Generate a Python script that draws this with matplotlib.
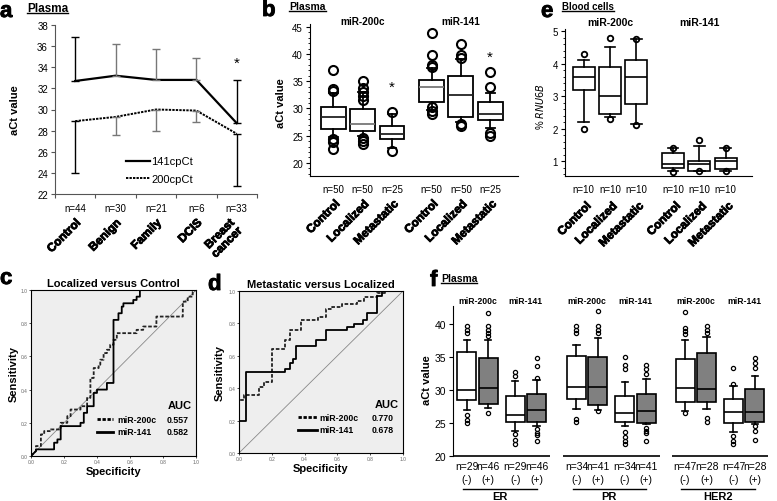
import matplotlib.pyplot as plt
import matplotlib.transforms as mtransforms
import matplotlib.patheffects as pe
from matplotlib.lines import Line2D
from matplotlib.ticker import MultipleLocator

plt.rcParams['font.family'] = ['Liberation Sans', 'DejaVu Sans']

W, H = 777, 502
fig = plt.figure(figsize=(W / 100, H / 100), dpi=100)

# ---------------- data ----------------
# a: plasma, mean +/- SD
a_groups = ["Control", "Benign", "Family", "DCIS", "Breast\ncancer"]
a_n = [44, 30, 21, 6, 33]
a_mean141 = [32.7, 33.2, 32.8, 32.8, 28.7]
a_sd141 = [4.2, 3.0, 2.9, 2.1, 4.1]
a_mean200 = [28.9, 29.3, 30.0, 29.9, 27.7]
a_sd200 = [4.9, 1.7, 2.0, 1.1, 4.9]

# b: plasma boxplots (miR-200c x3, miR-141 x3)
b_groups = ["Control", "Localized", "Metastatic"] * 2
b_n = [50, 50, 25, 50, 50, 25]
b_q1 = [26.2, 25.9, 24.4, 31.2, 28.4, 27.9]
b_med = [28.4, 27.2, 25.4, 33.9, 32.5, 29.0]
b_q3 = [30.2, 29.9, 26.7, 35.3, 36.0, 31.2]
b_lo = [24.8, 25.0, 22.8, 29.8, 27.6, 26.5]
b_hi = [32.8, 33.0, 29.0, 37.5, 39.0, 32.8]
b_fliers = [[37.0, 33.6, 33.2, 24.3, 23.9, 22.6],
            [35.0, 33.8, 33.0, 32.2, 31.6, 24.6, 24.0, 23.5],
            [29.3, 22.2],
            [43.8, 39.8, 38.0, 37.6, 30.2, 29.5, 29.0],
            [41.8, 39.8, 39.3, 27.2, 26.8],
            [36.6, 34.0, 25.5, 25.0]]
b_star = [None, None, 34.0, None, None, 39.5]

# e: blood cells boxplots
e_groups = ["Control", "Localized", "Metastatic"] * 2
e_n = [10, 10, 10, 10, 10, 10]
e_q1 = [3.2, 2.45, 2.75, 0.8, 0.68, 0.75]
e_med = [3.6, 3.0, 3.6, 0.9, 0.9, 1.0]
e_q3 = [3.9, 3.9, 4.1, 1.25, 1.0, 1.1]
e_lo = [2.2, 2.35, 2.15, 0.7, 0.68, 0.7]
e_hi = [4.1, 4.5, 4.75, 1.4, 1.45, 1.4]
e_fliers = [[4.3, 2.0], [4.8, 2.3], [4.75, 2.1], [1.4, 0.65], [1.65, 0.68], [1.4, 0.68]]

# c: ROC localized vs control (1 - specificity, sensitivity)
c200_x = [0.00, 0.03, 0.03, 0.06, 0.06, 0.08, 0.08, 0.12, 0.12, 0.18, 0.18, 0.22, 0.22, 0.24, 0.24,
          0.30, 0.30, 0.34, 0.34, 0.36, 0.36, 0.38, 0.38, 0.41, 0.41, 0.42, 0.42, 0.44, 0.44, 0.46,
          0.46, 0.48, 0.48, 0.50, 0.50, 0.52, 0.52, 0.64, 0.64, 0.68, 0.68, 0.76, 0.76, 0.92, 0.92,
          0.95, 0.95, 0.98, 0.98, 1.00]
c200_y = [0.00, 0.03, 0.06, 0.06, 0.13, 0.13, 0.15, 0.15, 0.16, 0.16, 0.20, 0.20, 0.24, 0.24, 0.28,
          0.28, 0.30, 0.30, 0.35, 0.35, 0.47, 0.47, 0.53, 0.53, 0.55, 0.55, 0.58, 0.58, 0.62, 0.62,
          0.64, 0.64, 0.67, 0.67, 0.70, 0.70, 0.74, 0.74, 0.76, 0.76, 0.78, 0.78, 0.84, 0.84, 0.93,
          0.93, 0.96, 0.96, 0.99, 1.00]
c141_x = [0.00, 0.03, 0.03, 0.14, 0.14, 0.16, 0.16, 0.18, 0.18, 0.30, 0.30, 0.32, 0.32, 0.34, 0.34,
          0.38, 0.38, 0.40, 0.40, 0.46, 0.46, 0.50, 0.50, 0.53, 0.53, 0.55, 0.55, 0.56, 0.56, 0.62,
          0.62, 0.64, 0.64, 0.66, 0.66, 0.70, 1.00]
c141_y = [0.00, 0.03, 0.04, 0.04, 0.08, 0.08, 0.10, 0.10, 0.18, 0.18, 0.20, 0.20, 0.26, 0.26, 0.30,
          0.30, 0.38, 0.38, 0.40, 0.40, 0.44, 0.44, 0.82, 0.82, 0.86, 0.86, 0.90, 0.90, 0.92, 0.92,
          0.94, 0.94, 0.96, 0.96, 1.00, 1.00, 1.00]
c_auc = [0.557, 0.582]

# d: ROC metastatic vs localized
d200_x = [0.00, 0.00, 0.03, 0.03, 0.12, 0.12, 0.15, 0.15, 0.20, 0.20, 0.28, 0.28, 0.31, 0.31, 0.38,
          0.38, 0.48, 0.48, 0.53, 0.53, 0.57, 0.57, 0.63, 0.63, 0.72, 0.72, 0.76, 0.76, 0.84, 0.84,
          0.89, 0.89, 1.00]
d200_y = [0.00, 0.33, 0.33, 0.36, 0.36, 0.41, 0.41, 0.44, 0.44, 0.64, 0.64, 0.70, 0.70, 0.76, 0.76,
          0.82, 0.82, 0.84, 0.84, 0.89, 0.89, 0.90, 0.90, 0.92, 0.92, 0.94, 0.94, 0.96, 0.96, 0.985,
          0.985, 1.00, 1.00]
d141_x = [0.00, 0.00, 0.04, 0.04, 0.28, 0.28, 0.31, 0.31, 0.33, 0.33, 0.35, 0.35, 0.47, 0.47, 0.53,
          0.53, 0.66, 0.66, 0.70, 0.70, 0.755, 0.755, 0.78, 0.78, 0.84, 0.84, 0.87, 0.87, 1.00]
d141_y = [0.00, 0.20, 0.20, 0.50, 0.50, 0.52, 0.52, 0.555, 0.555, 0.58, 0.58, 0.66, 0.66, 0.70, 0.70,
          0.76, 0.76, 0.78, 0.78, 0.795, 0.795, 0.82, 0.82, 0.865, 0.865, 0.97, 0.97, 1.00, 1.00]
d_auc = [0.770, 0.678]

# f: plasma by receptor status (per group: 200c(-), 200c(+), 141(-), 141(+))
f_groups = ["ER", "PR", "HER2"]
f_n = [29, 46, 29, 46, 34, 41, 34, 41, 47, 28, 47, 28]
f_status = ["(-)", "(+)"] * 6
f_q1 = [28.5, 27.95, 25.1, 25.2, 28.6, 27.8, 25.1, 25.0, 28.25, 28.25, 25.0, 25.2]
f_med = [30.0, 30.4, 26.2, 27.0, 30.5, 30.5, 26.5, 26.9, 30.4, 30.2, 26.7, 26.7]
f_q3 = [35.85, 34.9, 29.1, 29.4, 35.2, 35.05, 29.1, 29.5, 34.7, 35.6, 28.6, 30.2]
f_lo = [27.0, 27.3, 23.8, 24.6, 27.1, 27.0, 24.6, 24.85, 26.8, 27.1, 23.65, 24.8]
f_hi = [37.7, 37.7, 31.4, 31.6, 36.8, 37.9, 31.3, 31.7, 37.7, 38.1, 30.6, 32.15]
f_fliers = [[39.75, 39.2, 38.7, 26.3, 25.5, 25.0],
            [41.8, 39.75, 39.2, 38.7, 38.2, 26.6],
            [32.8, 32.15, 23.3, 22.5, 21.8],
            [34.9, 33.7, 31.9, 24.05, 23.5, 23.2, 22.3],
            [39.7, 39.2, 38.7, 25.6, 25.1],
            [42.0, 39.7, 39.2, 38.7, 26.8],
            [35.0, 33.9, 33.2, 23.6, 22.9, 22.3, 21.8],
            [33.8, 33.2, 32.5, 24.3, 23.8, 23.5, 22.3],
            [41.9, 39.5, 39.0, 38.5, 26.5],
            [39.75, 39.2, 38.7, 25.8, 25.1],
            [33.4, 31.0, 23.0, 22.3, 21.8],
            [34.9, 34.2, 33.4, 24.5, 23.8, 22.5]]


# ---------------- helpers ----------------
def px_axes(l, t, r, b):
    return fig.add_axes([l / W, 1 - b / H, (r - l) / W, (b - t) / H])


def fy(py):
    return 1 - py / H


def xdata_yfig(ax, dx=0):
    tr = mtransforms.blended_transform_factory(ax.transData, fig.transFigure)
    if dx:
        tr = tr + mtransforms.ScaledTranslation(dx / 100, 0, fig.dpi_scale_trans)
    return tr


heavy = [pe.withStroke(linewidth=0.6, foreground='black')]


def cat_labels(ax, xs, labels, n, n_py, lab_py, dx=9, size=8.5):
    for x, lab, k in zip(xs, labels, n):
        ax.text(x, fy(n_py), f"n={k}", transform=xdata_yfig(ax), ha='center', va='center', fontsize=7)
        ax.text(x, fy(lab_py), lab, transform=xdata_yfig(ax, dx), rotation=45,
                ha='right', va='top', fontsize=size, fontweight='bold', linespacing=0.9,
                path_effects=heavy)


def boxes(ax, pos, q1, med, q3, lo, hi, fl, width, msize, mew, lw=1.2, capw=0.3):
    stats = [dict(q1=a, med=m, q3=b, whislo=l, whishi=h, fliers=f)
             for a, m, b, l, h, f in zip(q1, med, q3, lo, hi, fl)]
    return ax.bxp(stats, positions=pos, widths=width, patch_artist=True, manage_ticks=False,
                  capwidths=capw,
                  boxprops=dict(facecolor='white', edgecolor='black', linewidth=lw),
                  medianprops=dict(color='black', linewidth=lw),
                  whiskerprops=dict(color='black', linewidth=lw),
                  capprops=dict(color='black', linewidth=lw),
                  flierprops=dict(marker='o', markerfacecolor='none', markeredgecolor='black',
                                  markersize=msize, markeredgewidth=mew, linestyle='none'))


underline_texts = []


def heading(x, base, s, size):
    t = fig.text(x / W, fy(base), s, fontsize=size, fontweight='bold', va='baseline')
    underline_texts.append((t, base))


def letter(x, base, s):
    fig.text(x / W, fy(base), s, fontsize=16, fontweight='bold', va='baseline', path_effects=heavy)


# ---------------- panel a ----------------
ax = px_axes(55, 26, 257, 195)
xa = list(range(len(a_groups)))
ln1, = ax.plot(xa, a_mean141, color='black', lw=1.6, label='141cpCt')
ln2, = ax.plot(xa, a_mean200, color='black', lw=1.4, ls=(0, (1.2, 0.6)), label='200cpCt')
ecol = ['black', '#777777', '#777777', '#777777', 'black']
for i in xa:
    ax.errorbar(i, a_mean141[i], yerr=[[0], [a_sd141[i]]], fmt='none', ecolor=ecol[i], elinewidth=1, capsize=3)
    ax.errorbar(i, a_mean200[i], yerr=[[a_sd200[i]], [0]], fmt='none', ecolor=ecol[i], elinewidth=1, capsize=3)
ax.text(4, a_mean141[4] + a_sd141[4] + 1.0, '*', ha='center', va='bottom', fontsize=11)
ax.set_ylim(22, 38)
ax.set_xlim(-0.5, 4.5)
ax.set_yticks(range(22, 39, 2))
ax.set_xticks([i - 0.5 for i in range(6)])
ax.set_xticklabels([])
for s in ['top', 'right']:
    ax.spines[s].set_visible(False)
for s in ['left', 'bottom']:
    ax.spines[s].set_color('#555555')
ax.tick_params(axis='both', color='#555555', length=3, labelsize=7, pad=2)
ax.set_ylabel('aCt value', fontsize=8, fontweight='bold')
ax.yaxis.set_label_coords(-0.2, 0.5)
ax.yaxis.label.set_va('center')
ax.legend(handles=[ln1, ln2], frameon=False, loc='center left', bbox_to_anchor=(0.3, 0.14),
          fontsize=8, handlelength=2.2, handletextpad=0.1, labelspacing=0.7)
cat_labels(ax, xa, a_groups, a_n, 209, 218, dx=8)
letter(0, 18, 'a')
heading(27, 12, 'Plasma', 8.5)

# ---------------- panel b ----------------
ax = px_axes(310, 25, 518, 177)
pb = [0, 1, 2, 3.35, 4.35, 5.35]
art = boxes(ax, pb, b_q1, b_med, b_q3, b_lo, b_hi, b_fliers, 0.85, 6.5, 1.5, lw=1.3)
b_medc = ['#222222', '#777777', '#222222', '#777777', '#222222', '#222222']
for m, c in zip(art['medians'], b_medc):
    m.set_color(c)
for x, s in zip(pb, b_star):
    if s is not None:
        ax.text(x, s, '*', ha='center', va='center', fontsize=11)
ax.set_xlim(-0.8, 6.3)
ax.set_ylim(17.6, 45.5)
ax.set_yticks(range(20, 46, 5))
ax.yaxis.set_minor_locator(MultipleLocator(1))
ax.set_xticks([])
for s in ['top', 'right']:
    ax.spines[s].set_visible(False)
ax.tick_params(axis='y', length=3, labelsize=7, pad=2)
ax.tick_params(axis='y', which='minor', length=1.5)
ax.set_ylabel('aCt value', fontsize=8, fontweight='bold')
ax.yaxis.set_label_coords(-0.139, 0.487)
ax.yaxis.label.set_va('center')
ax.text(1, fy(22), 'miR-200c', transform=xdata_yfig(ax), ha='center', va='center', fontsize=7.2, fontweight='bold')
ax.text(4.35, fy(22), 'miR-141', transform=xdata_yfig(ax), ha='center', va='center', fontsize=7.2, fontweight='bold')
cat_labels(ax, pb, b_groups, b_n, 190, 199, dx=9)
letter(262, 17, 'b')
heading(289, 10, 'Plasma', 7.5)

# ---------------- panel e ----------------
ax = px_axes(565, 30, 752, 177)
pe_ = [0, 1, 2, 3.4, 4.4, 5.4]
boxes(ax, pe_, e_q1, e_med, e_q3, e_lo, e_hi, e_fliers, 0.84, 4, 1.3, lw=1.2, capw=0.4)
ax.set_xlim(-0.71, 6.4)
ax.set_ylim(0.54, 5.07)
ax.set_yticks([1, 2, 3, 4, 5])
ax.yaxis.set_minor_locator(MultipleLocator(0.2))
ax.set_xticks([])
for s in ['top', 'right']:
    ax.spines[s].set_visible(False)
ax.tick_params(axis='y', length=3, labelsize=7, pad=2)
ax.tick_params(axis='y', which='minor', length=1.5)
ax.set_ylabel('% $\\it{RNU6B}$', fontsize=7)
ax.yaxis.set_label_coords(-0.134, 0.476)
ax.yaxis.label.set_va('center')
ax.text(1, fy(23), 'miR-200c', transform=xdata_yfig(ax), ha='center', va='center', fontsize=7.5, fontweight='bold')
ax.text(4.4, fy(23), 'miR-141', transform=xdata_yfig(ax), ha='center', va='center', fontsize=7.5, fontweight='bold')
cat_labels(ax, pe_, e_groups, e_n, 190, 201, dx=10)
letter(541, 18, 'e')
heading(562, 10, 'Blood cells', 7)


# ---------------- panels c, d ----------------
def roc(ax, title, x200, y200, x141, y141, auc, leg):
    ax.set_facecolor('#eeeeee')
    ax.plot([0, 1], [0, 1], color='#888888', lw=0.6)
    ax.plot(x200, y200, color='#222222', lw=1.3, ls=(0, (2, 1)))
    ax.plot(x141, y141, color='black', lw=1.3)
    ax.set_xlim(0, 1)
    ax.set_ylim(0, 1)
    ticks = [0, 0.2, 0.4, 0.6, 0.8, 1.0]
    ax.set_xticks(ticks, ['0.0', '0.2', '0.4', '0.6', '0.8', '1.0'])
    ax.set_yticks(ticks, ['0.0', '0.2', '0.4', '0.6', '0.8', '1.0'])
    ax.tick_params(length=1.5, width=0.5, labelsize=3.5, labelcolor='#666666', pad=1)
    for s in ax.spines.values():
        s.set_linewidth(0.8)
    ax.set_title(title, fontsize=8, fontweight='bold', pad=3)
    ax.set_xlabel('Specificity', fontsize=8, fontweight='bold', labelpad=1)
    ax.set_ylabel('Sensitivity', fontsize=8, fontweight='bold')
    ax.yaxis.set_label_coords(leg['ylab'], 0.5)
    ax.yaxis.label.set_va('center')
    ax.text(0.975, 0.305, 'AUC', transform=ax.transAxes, ha='right', va='center', fontsize=8, fontweight='bold')
    for yy, ls, name, v in [(0.22, (0, (1.2, 0.6)), 'miR-200c', auc[0]), (0.145, '-', 'miR-141', auc[1])]:
        ax.add_line(Line2D([leg['l0'], leg['l1']], [yy, yy], transform=ax.transAxes, color='black', lw=2, ls=ls))
        ax.text(leg['name'], yy, name, transform=ax.transAxes, ha='left', va='center', fontsize=6.3, fontweight='bold')
        ax.text(leg['val'], yy, f"{v:.3f}", transform=ax.transAxes, ha='left', va='center', fontsize=6.3, fontweight='bold')


ax = px_axes(31, 291, 196, 457)
roc(ax, 'Localized versus Control', c200_x, c200_y, c141_x, c141_y, c_auc,
    dict(l0=0.40, l1=0.50, name=0.525, val=0.82, ylab=-0.105))
letter(0, 285, 'c')

ax = px_axes(239, 292, 403, 454)
roc(ax, 'Metastatic versus Localized', d200_x, d200_y, d141_x, d141_y, d_auc,
    dict(l0=0.36, l1=0.475, name=0.49, val=0.81, ylab=-0.12))
letter(208, 291, 'd')

# ---------------- panel f ----------------
ax = px_axes(453, 307, 770, 457)
within = [0, 1, 2.25, 3.25]
offsets = [0, 5.1, 10.15]
pf = [o + w for o in offsets for w in within]
art = boxes(ax, pf, f_q1, f_med, f_q3, f_lo, f_hi, f_fliers, 0.88, 3, 0.9, lw=1.2, capw=0.3)
for patch, st in zip(art['boxes'], f_status):
    patch.set_facecolor('#808080' if st == '(+)' else 'white')
ax.set_xlim(-0.64, 14.1)
ax.set_ylim(20, 42.8)
ax.set_yticks(range(20, 41, 5))
ax.set_xticks([])
for s in ['top', 'right', 'bottom']:
    ax.spines[s].set_visible(False)
ax.tick_params(axis='y', length=3, labelsize=7.5, pad=2)
ax.set_ylabel('aCt value', fontsize=8, fontweight='bold')
ax.yaxis.set_label_coords(-0.082, 0.513)
ax.yaxis.label.set_va('center')
for g, o in enumerate(offsets):
    p = [o + w for w in within]
    ax.hlines(20, p[0] - 0.62, p[3] + 0.62, color='black', lw=1.2, clip_on=False)
    ax.text((p[0] + p[1]) / 2, fy(302), 'miR-200c', transform=xdata_yfig(ax), ha='center', va='center', fontsize=6.2, fontweight='bold')
    ax.text((p[2] + p[3]) / 2, fy(302), 'miR-141', transform=xdata_yfig(ax), ha='center', va='center', fontsize=6.2, fontweight='bold')
    ax.add_line(Line2D([p[0] - 0.17, p[3]], [fy(490), fy(490)], transform=xdata_yfig(ax), color='black', lw=1, clip_on=False))
    ax.text((p[0] + p[3]) / 2 - 0.1, fy(497), f_groups[g], transform=xdata_yfig(ax), ha='center', va='center', fontsize=8, fontweight='bold')
for x, k, st in zip(pf, f_n, f_status):
    ax.text(x, fy(467), f"n={k}", transform=xdata_yfig(ax), ha='center', va='center', fontsize=7.5)
    ax.text(x, fy(480), st, transform=xdata_yfig(ax), ha='center', va='center', fontsize=7.5)
letter(430, 287, 'f')
heading(441, 282, 'Plasma', 7.5)

# underline the panel headings
fig.canvas.draw()
for t, base in underline_texts:
    bb = t.get_window_extent()
    fig.add_artist(Line2D([bb.x0 / W, bb.x1 / W], [fy(base + 2), fy(base + 2)],
                          transform=fig.transFigure, color='black', lw=1))

fig.savefig('out.png', dpi=100)
